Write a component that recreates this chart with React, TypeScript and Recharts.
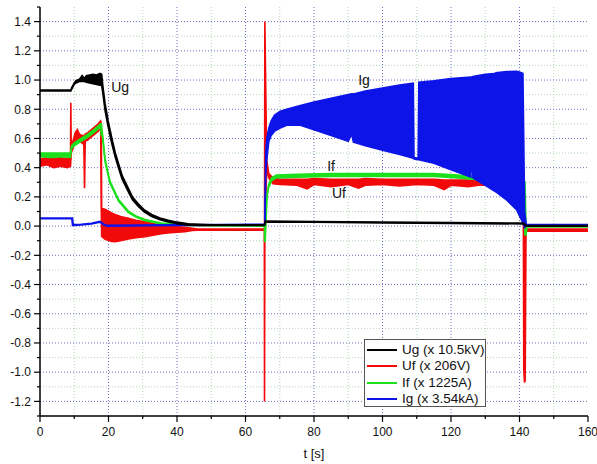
import {
  Area,
  CartesianGrid,
  ComposedChart,
  Legend,
  Scatter,
  XAxis,
  YAxis,
} from "recharts";

// [t, low, high] — noisy traces are drawn as min/max envelopes
const UG: [number, number, number][] = [
  [0, 0.925, 0.932], [9.0, 0.925, 0.932], [9.3, 0.94, 0.95], [10.0, 0.97, 0.98],
  [10.5, 0.98, 0.995], [11.5, 0.99, 1.005], [12.3, 0.99, 1.03], [13.0, 0.99, 1.01],
  [13.5, 0.985, 1.03], [14.5, 0.98, 1.035], [15.5, 0.975, 1.04], [16.5, 0.97, 1.035],
  [17.5, 0.965, 1.045], [18.0, 0.965, 1.04], [18.4, 0.9, 0.95], [19.0, 0.79, 0.84],
  [19.9, 0.68, 0.72], [20.9, 0.57, 0.61], [22.0, 0.47, 0.5], [22.9, 0.4, 0.43],
  [24.0, 0.32, 0.345], [25.8, 0.235, 0.258], [27.0, 0.18, 0.2], [28.7, 0.135, 0.153],
  [30.5, 0.095, 0.11], [32.6, 0.066, 0.08], [35.0, 0.044, 0.056], [37.5, 0.028, 0.04],
  [40.0, 0.016, 0.027], [43.3, 0.006, 0.016], [46.5, 0.004, 0.012], [50, 0.005, 0.009],
  [65.5, 0.005, 0.009], [65.8, 0.028, 0.034], [80, 0.026, 0.031], [100, 0.022, 0.028],
  [120, 0.018, 0.024], [141.2, 0.015, 0.021], [141.8, 0.0, 0.004], [160, 0.0, 0.004],
];

const UF: [number, number, number][] = [
  [0, 0.41, 0.46], [2, 0.42, 0.47], [4, 0.4, 0.46], [6, 0.41, 0.47], [8, 0.4, 0.46],
  [8.9, 0.41, 0.46], [9.0, 0.45, 0.845], [9.1, 0.5, 0.56], [9.6, 0.53, 0.58],
  [10.3, 0.58, 0.64], [10.9, 0.6, 0.66], [11.5, 0.58, 0.63], [12.2, 0.57, 0.62],
  [12.8, 0.56, 0.62], [13.0, 0.26, 0.6], [13.2, 0.58, 0.63], [14, 0.59, 0.64],
  [15, 0.61, 0.66], [16, 0.63, 0.68], [17, 0.65, 0.7], [17.7, 0.68, 0.72],
  [17.9, 0.12, 0.7], [18.0, -0.07, 0.12], [19, -0.09, 0.115], [20.9, -0.105, 0.09],
  [21.9, -0.107, 0.08], [23.5, -0.1, 0.065], [25.8, -0.088, 0.053], [28, -0.08, 0.04],
  [30.7, -0.073, 0.03], [33, -0.062, 0.018], [35.5, -0.052, 0.008], [38, -0.045, 0.0],
  [42.3, -0.038, -0.008], [44.5, -0.03, -0.015], [46, -0.028, -0.02], [65.5, -0.028, -0.02],
  [65.55, -1.2, -0.02], [65.65, -0.02, 1.4], [66.2, 0.4, 0.45], [66.8, 0.33, 0.36],
  [68, 0.29, 0.33], [70, 0.285, 0.32], [75, 0.28, 0.32], [78, 0.255, 0.32],
  [80, 0.285, 0.325], [85, 0.27, 0.32], [90, 0.285, 0.32], [93, 0.26, 0.32],
  [95, 0.28, 0.325], [100, 0.285, 0.32], [105, 0.275, 0.32], [110, 0.285, 0.32],
  [115, 0.28, 0.32], [118, 0.25, 0.315], [120, 0.28, 0.315], [125, 0.27, 0.315],
  [128, 0.28, 0.31], [135, 0.28, 0.31], [141.1, 0.27, 0.3], [141.25, -0.98, 0.28],
  [141.45, -1.07, 0.2], [141.65, -1.06, -0.03], [141.9, -0.035, -0.02], [160, -0.035, -0.02],
];

const IF: [number, number, number][] = [
  [0, 0.475, 0.5], [3, 0.47, 0.5], [6, 0.475, 0.5], [8.9, 0.47, 0.5], [9.2, 0.53, 0.55],
  [10, 0.55, 0.57], [12, 0.58, 0.6], [14, 0.61, 0.63], [16, 0.645, 0.665],
  [17.7, 0.68, 0.7], [17.9, 0.62, 0.7], [18.2, 0.62, 0.64], [19.0, 0.44, 0.46],
  [20.4, 0.295, 0.31], [22.9, 0.172, 0.184], [25.8, 0.093, 0.103], [28, 0.062, 0.07],
  [30.7, 0.037, 0.045], [35.5, 0.015, 0.021], [40.3, 0.007, 0.012], [50, 0.002, 0.006],
  [65.5, 0.0, 0.004], [65.6, -0.105, 0.0], [65.75, -0.105, 0.05], [66.3, 0.2, 0.22],
  [66.7, 0.26, 0.28], [67.6, 0.31, 0.33], [69, 0.33, 0.35], [75, 0.335, 0.355],
  [85, 0.34, 0.36], [95, 0.34, 0.36], [105, 0.34, 0.36], [115, 0.34, 0.36],
  [122, 0.33, 0.35], [127, 0.32, 0.34], [135, 0.31, 0.33], [141.2, 0.3, 0.32],
  [141.6, -0.06, 0.3], [141.9, -0.06, 0.0], [142.2, -0.005, 0.005], [160, -0.005, 0.005],
];

const IG: [number, number, number][] = [
  [0, 0.05, 0.056], [9.3, 0.05, 0.056], [9.5, 0.005, 0.056], [9.7, 0.005, 0.01],
  [12, 0.008, 0.013], [15, 0.015, 0.02], [17.5, 0.027, 0.033], [18.5, 0.01, 0.015],
  [19.5, 0.0, 0.005], [30, 0.002, 0.007], [65.5, 0.008, 0.013], [65.65, 0.008, 0.013],
  [65.9, 0.35, 0.5], [66.2, 0.45, 0.6], [66.8, 0.58, 0.67], [67.5, 0.62, 0.72],
  [68.5, 0.65, 0.76], [70, 0.67, 0.785], [72, 0.69, 0.8], [76, 0.69, 0.825],
  [80, 0.66, 0.85], [85, 0.62, 0.875], [90, 0.58, 0.9], [91, 0.63, 0.905],
  [91.5, 0.575, 0.905], [95, 0.55, 0.925], [100, 0.52, 0.945], [105, 0.49, 0.965],
  [109.0, 0.465, 0.978], [109.2, 0.46, 0.47], [110.4, 0.455, 0.465], [110.6, 0.455, 0.985],
  [115, 0.43, 0.995], [120, 0.385, 1.01], [125.8, 0.335, 1.02], [126.1, 0.54, 1.02],
  [126.4, 0.33, 1.025], [130, 0.28, 1.04], [132.7, 0.24, 1.045], [132.9, 0.35, 1.045],
  [133.1, 0.235, 1.05], [136.3, 0.178, 1.058], [139.2, 0.11, 1.06], [140.6, 0.04, 1.05],
  [141.0, 0.02, 1.045], [141.5, -0.01, 0.1], [142, 0.002, 0.01], [160, 0.002, 0.01],
];

const X_TICKS = [0, 10, 20, 30, 40, 50, 60, 70, 80, 90, 100, 110, 120, 130, 140, 150, 160];
const Y_TICKS = [
  -1.3, -1.2, -1.1, -1.0, -0.9, -0.8, -0.7, -0.6, -0.5, -0.4, -0.3, -0.2, -0.1, 0.0,
  0.1, 0.2, 0.3, 0.4, 0.5, 0.6, 0.7, 0.8, 0.9, 1.0, 1.1, 1.2, 1.3, 1.4, 1.5,
];
const X_MAJOR_GRID = [20, 40, 60, 80, 100, 120, 140];
const X_MINOR_GRID = [10, 30, 50, 70, 90, 110, 130, 150];
const Y_MAJOR_GRID = [-1.2, -1.0, -0.8, -0.6, -0.4, -0.2, 0.0, 0.2, 0.4, 0.6, 0.8, 1.0, 1.2, 1.4];
const Y_MINOR_GRID = [-1.1, -0.9, -0.7, -0.5, -0.3, -0.1, 0.1, 0.3, 0.5, 0.7, 0.9, 1.1, 1.3];

const LEGEND_NAMES = ["Ug (x 10.5kV)", "Uf (x 206V)", "If (x 1225A)", "Ig (x 3.54kA)"];
const NOTES = [
  { t: 23.4, v: 0.953, text: "Ug" },
  { t: 94.6, v: 1.0, text: "Ig" },
  { t: 85.0, v: 0.41, text: "If" },
  { t: 87.3, v: 0.226, text: "Uf" },
];

const COLORS = { ug: "#000000", uf: "#f20a0a", if: "#1de01d", ig: "#0c14e8" };
const FONT = "'Liberation Sans', Arial, sans-serif";
const TICK_SIZE = 6;
const X_MARGIN = 5;
const Y_MARGIN = 3;

const band = (rows: [number, number, number][]) =>
  rows.map(([t, lo, hi]) => ({ t, r: [lo, hi] }));

function XTick({ x, y, payload }: any) {
  const major = payload.value % 20 === 0;
  const ay = y - TICK_SIZE - X_MARGIN;
  return (
    <g>
      <line x1={x} x2={x} y1={ay} y2={ay + (major ? 6 : 3)} stroke="#000" strokeWidth={1.2} />
      {major && (
        <text x={x} y={y} dy="0.71em" textAnchor="middle" fontSize={12} fill="#111" fontFamily={FONT}>
          {payload.value}
        </text>
      )}
    </g>
  );
}

function YTick({ x, y, payload }: any) {
  const v = payload.value as number;
  const major = Math.round(v * 10) % 2 === 0 && v > -1.25 && v < 1.45;
  const ax = x + TICK_SIZE + Y_MARGIN;
  return (
    <g>
      <line x1={ax - (major ? 6 : 3)} x2={ax} y1={y} y2={y} stroke="#000" strokeWidth={1.2} />
      {major && (
        <text x={x} y={y} dy="0.355em" textAnchor="end" fontSize={12} fill="#111" fontFamily={FONT}>
          {v.toFixed(1)}
        </text>
      )}
    </g>
  );
}

function LegendBox() {
  const colors = [COLORS.ug, COLORS.uf, COLORS.if, COLORS.ig];
  return (
    <div
      style={{
        boxSizing: "border-box",
        width: 122,
        height: 68,
        border: "1px solid #555",
        background: "#fff",
        paddingTop: 1.5,
        fontFamily: FONT,
        fontSize: 13.5,
        color: "#111",
      }}
    >
      {LEGEND_NAMES.map((name, i) => (
        <div key={name} style={{ display: "flex", alignItems: "center", height: 16.5, whiteSpace: "nowrap" }}>
          <span style={{ display: "inline-block", width: 30, height: 2, marginLeft: 2, background: colors[i] }} />
          <span style={{ marginLeft: 5, lineHeight: "16px" }}>{name}</span>
        </div>
      ))}
    </div>
  );
}

function NoteShape(props: any) {
  return (
    <text x={props.cx} y={props.cy} dy="0.355em" textAnchor="middle" fontSize={14} fill="#111" fontFamily={FONT}>
      {props.payload.text}
    </text>
  );
}

export default function App() {
  const series = [
    { key: "uf", data: band(UF), color: COLORS.uf },
    { key: "if", data: band(IF), color: COLORS.if },
    { key: "ig", data: band(IG), color: COLORS.ig },
    { key: "ug", data: band(UG), color: COLORS.ug },
  ];
  return (
    <div style={{ position: "absolute", left: 0, top: 0, background: "#fff", fontFamily: FONT }}>
      <ComposedChart width={597} height={464} margin={{ top: 7, right: 9, bottom: 0, left: 0 }}>
        <CartesianGrid
          stroke="#b4d4b4"
          strokeDasharray="1 2"
          horizontalValues={Y_MINOR_GRID}
          verticalValues={X_MINOR_GRID}
        />
        <CartesianGrid
          stroke="#6e6ec4"
          strokeDasharray="1 2"
          horizontalValues={Y_MAJOR_GRID}
          verticalValues={X_MAJOR_GRID}
        />
        <XAxis
          type="number"
          dataKey="t"
          domain={[0, 160]}
          ticks={X_TICKS}
          interval={0}
          height={48}
          tickSize={TICK_SIZE}
          tickMargin={X_MARGIN}
          tickLine={false}
          tick={<XTick />}
          axisLine={{ stroke: "#000", strokeWidth: 1.5 }}
          label={{ value: "t [s]", position: "insideBottom", offset: 6, fontSize: 13, fill: "#111" }}
        />
        <YAxis
          type="number"
          domain={[-1.3, 1.5]}
          ticks={Y_TICKS}
          interval={0}
          width={40}
          tickSize={TICK_SIZE}
          tickMargin={Y_MARGIN}
          tickLine={false}
          tick={<YTick />}
          axisLine={{ stroke: "#000", strokeWidth: 1.5 }}
          allowDataOverflow
        />
        {series.map((s) => (
          <Area
            key={s.key}
            data={s.data}
            dataKey="r"
            type="linear"
            stroke={s.color}
            strokeWidth={1.6}
            fill={s.color}
            fillOpacity={1}
            dot={false}
            activeDot={false}
            isAnimationActive={false}
          />
        ))}
        <Scatter data={NOTES} dataKey="v" shape={<NoteShape />} isAnimationActive={false} />
        <Legend
          content={() => <LegendBox />}
          layout="vertical"
          align="center"
          verticalAlign="middle"
          wrapperStyle={{ left: 364, top: 339, width: 122, height: 68 }}
        />
      </ComposedChart>
    </div>
  );
}
